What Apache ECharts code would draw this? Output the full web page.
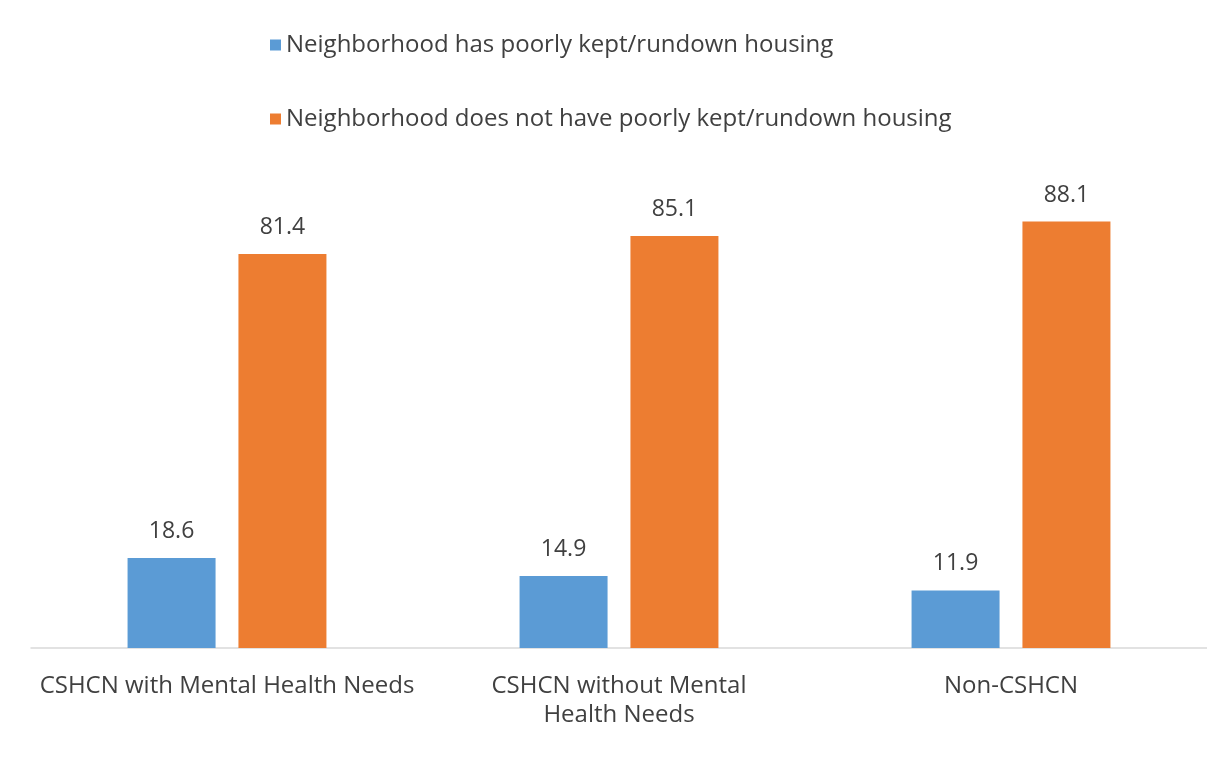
<!DOCTYPE html>
<html><head><meta charset="utf-8">
<script src="https://cdn.jsdelivr.net/npm/echarts@6/dist/echarts.min.js"></script>
<style>html,body{margin:0;padding:0;background:#fff}#c{width:1207px;height:762px}</style>
</head><body><div id="c"></div>
<script>
const categories = ['CSHCN with Mental Health Needs', 'CSHCN without Mental\nHealth Needs', 'Non-CSHCN'];
const seriesNames = ['Neighborhood has poorly kept/rundown housing', 'Neighborhood does not have poorly kept/rundown housing'];
const poorlyKept = [18.6, 14.9, 11.9];
const notPoorlyKept = [81.4, 85.1, 88.1];

const font = '"Open Sans", Lato, sans-serif';
const chart = echarts.init(document.getElementById('c'));
chart.setOption({
  animation: false,
  color: ['#5B9BD5', '#ED7D31'],
  legend: {
    orient: 'vertical', left: 265, top: 28, itemGap: 50,
    itemWidth: 11, itemHeight: 11, icon: 'rect',
    textStyle: { fontFamily: font, fontSize: 24, color: '#404040' },
    data: seriesNames
  },
  grid: { left: 31, top: 164, width: 1182, bottom: 114, containLabel: false },
  xAxis: {
    type: 'category', data: categories,
    axisLine: { lineStyle: { color: '#D9D9D9', width: 1.5 } },
    axisTick: { show: false },
    axisLabel: { fontFamily: font, fontSize: 24, color: '#404040', margin: 24, lineHeight: 29, interval: 0 }
  },
  yAxis: { type: 'value', min: 0, max: 100, show: false, splitLine: { show: false } },
  series: [
    { name: seriesNames[0], type: 'bar', data: poorlyKept, barWidth: 88, barGap: '26%',
      label: { show: true, position: 'top', distance: 15, fontFamily: font, fontSize: 23, color: '#404040' } },
    { name: seriesNames[1], type: 'bar', data: notPoorlyKept, barWidth: 88,
      label: { show: true, position: 'top', distance: 15, fontFamily: font, fontSize: 23, color: '#404040' } }
  ]
});
</script></body></html>
